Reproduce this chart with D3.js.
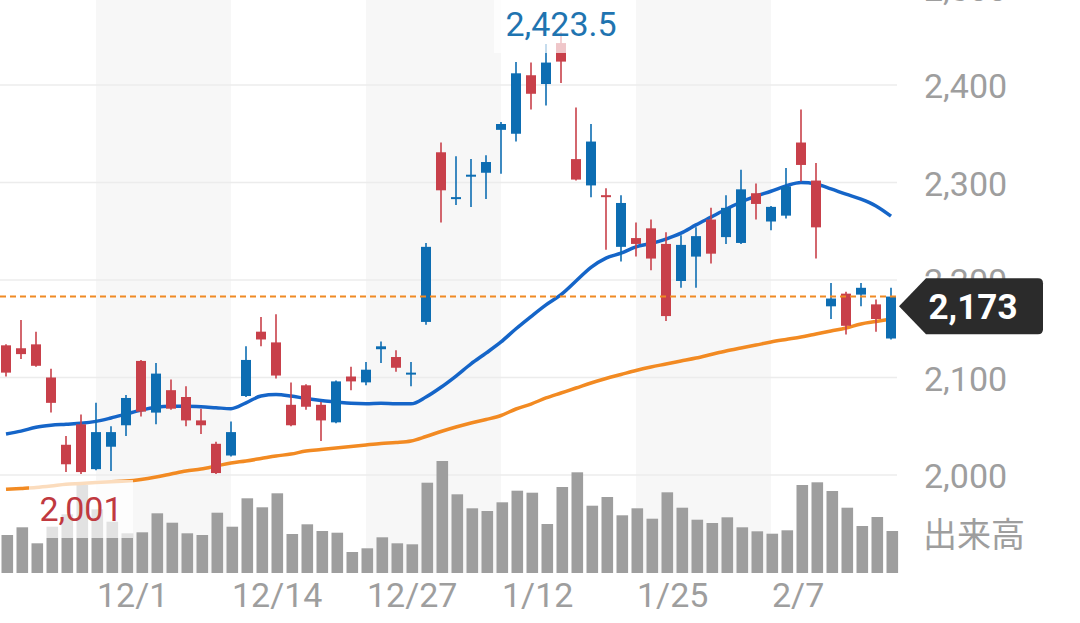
<!DOCTYPE html>
<html>
<head>
<meta charset="utf-8">
<script src="https://cdn.jsdelivr.net/npm/d3@7"></script>
<style>
  html, body { margin: 0; padding: 0; background: #fff; }
  svg { display: block; font-family: Roboto, "Noto Sans", sans-serif; }
</style>
</head>
<body>
<div id="chart"></div>
<script>
// trading days (Nov 2022 - Feb 2023)
var dates = ['11/22','11/24','11/25','11/28','11/29','11/30','12/1','12/2','12/5','12/6',
  '12/7','12/8','12/9','12/12','12/13','12/14','12/15','12/16','12/19','12/20',
  '12/21','12/22','12/23','12/26','12/27','12/28','12/29','12/30','1/4','1/5',
  '1/6','1/10','1/11','1/12','1/13','1/16','1/17','1/18','1/19','1/20',
  '1/23','1/24','1/25','1/26','1/27','1/30','1/31','2/1','2/2','2/3',
  '2/6','2/7','2/8','2/9','2/10','2/13','2/14','2/15','2/16','2/17'];

var open  = [2133,2130,2134,2100,2031,2052,2006,2029,2051,2117,
  2064,2087,2080,2056,2032,2020,2081,2147,2136,2072,
  2092,2072,2054,2101,2095,2129,2121,2104,2157,2331,
  2284,2307,2310,2354,2350,2410,2401,2443,2324,2297,
  2287,2234,2243,2253,2237,2199,2224,2262,2244,2238,
  2289,2260,2266,2341,2302,2173,2186,2185,2175,2140];
var high  = [2134,2159,2147,2109,2040,2062,2074,2050,2082,2118,
  2115,2098,2091,2068,2034,2055,2132,2162,2165,2095,
  2093,2075,2097,2111,2116,2137,2128,2116,2238,2341,
  2327,2324,2328,2362,2423.5,2423,2442,2454,2377,2360,
  2294,2287,2259,2262,2249,2246,2254,2274,2287,2313,
  2299,2276,2315,2375,2320,2197,2188,2197,2180,2192];
var low   = [2101,2119,2111,2064,2003,2001,2005,2004,2040,2060,
  2052,2067,2050,2042,2001,2019,2080,2132,2099,2050,
  2067,2035,2053,2087,2092,2115,2106,2091,2154,2259,
  2277,2275,2283,2309,2342,2375,2379,2402,2302,2285,
  2231,2219,2224,2210,2158,2192,2192,2217,2237,2237,
  2262,2251,2263,2301,2222,2160,2144,2173,2147,2139];
var close = [2105,2124,2112,2074,2011,2003,2044,2044,2079,2065,
  2104,2068,2056,2051,2002,2044,2118,2139,2102,2051,
  2070,2056,2096,2096,2108,2132,2110,2105,2234,2292,
  2285,2308,2321,2360,2412,2391,2423,2424,2303,2342,
  2285,2279,2237,2222,2163,2236,2245,2227,2274,2293,
  2278,2275,2296,2318,2254,2181,2153,2192,2160,2183];

// short and long moving averages
var maShort = [2042,2045,2049,2051,2052,2053,2055,2058.5,2062.5,2066.5,
  2069.5,2070.5,2070.5,2070,2069,2068,2074,2081,2082.5,2081,
  2078.5,2076.5,2075,2073.5,2073,2073.5,2073,2073,2080,2090,
  2101.5,2114,2125,2136.5,2150,2162.5,2174.5,2185,2199,2213,
  2222.5,2227.5,2234,2237.5,2242,2248,2256.5,2264.5,2272.5,2280,
  2286,2291,2296.5,2300,2298.5,2293.5,2288,2283,2276,2265.5];
var maLong = [1985.3,1986.2,1987.2,1988.7,1990.5,1991.3,1992.3,1993.1,1993.8,1995.4,
  1997.9,2001,2004.1,2006.2,2009.2,2012.3,2014.4,2016.9,2019.5,2021.5,
  2024.6,2026.2,2027.7,2029.2,2030.8,2032.3,2033.3,2034.9,2039.5,2044.6,
  2049.2,2053.3,2056.9,2061,2067.7,2072.8,2079,2084.1,2089.2,2094.4,
  2099,2103.1,2107.2,2110.8,2113.8,2116.9,2120,2123.6,2127.2,2130.3,
  2133.3,2136.4,2139,2141.5,2144.6,2147.7,2150.8,2154.9,2157.4,2160];

// volume (thousand shares)
var volume = [380,457,297,463,587,880,637,513,397,407,
  597,503,397,380,603,463,747,657,797,390,
  487,420,403,210,247,357,297,287,903,1120,
  787,647,620,707,823,803,490,860,1007,673,
  760,577,647,543,807,653,533,500,557,457,
  417,393,427,880,907,820,653,470,560,420];

var priceTicks = [2000, 2100, 2200, 2300, 2400, 2500];
var dateTicks = ['12/1', '12/14', '12/27', '1/12', '1/25', '2/7'];
var shadedRanges = [['12/1', '12/14'], ['12/27', '1/12'], ['1/25', '2/7']];
var lastPrice = 2173;
var refPrice = 2183;
var highMark = { date: '1/18', value: 2423.5 };
var lowMark = { date: '11/30', value: 2001 };

var width = 1080;
var height = 623;
var plotRight = 897;
var up = '#0d6db2', down = '#c8404a';

var svg = d3.select('#chart')
  .append('svg')
  .attr('width', width)
  .attr('height', height);

svg.append('rect').attr('width', width).attr('height', height).attr('fill', '#fff');

// scales
var x = d3.scalePoint().domain(dates).range([6, 891]);
var y = d3.scaleLinear().domain([2000, 2500]).range([475, -12.5]);
var yVol = d3.scaleLinear().domain([0, 1120]).range([573, 461]);

// shaded bands
svg.append('g').selectAll('rect')
  .data(shadedRanges)
  .enter()
  .append('rect')
  .attr('x', function(d){ return x(d[0]); })
  .attr('width', function(d){ return x(d[1]) - x(d[0]); })
  .attr('y', 0)
  .attr('height', 573)
  .attr('fill', '#f7f7f7');

// grid
svg.append('g').selectAll('line')
  .data(priceTicks)
  .enter()
  .append('line')
  .attr('x1', 0).attr('x2', plotRight)
  .attr('y1', function(d){ return y(d); })
  .attr('y2', function(d){ return y(d); })
  .attr('stroke', '#ececec')
  .attr('stroke-width', 1.5);

// volume bars
svg.append('g').selectAll('rect')
  .data(volume)
  .enter()
  .append('rect')
  .attr('x', function(d, i){ return x(dates[i]) - 4.5; })
  .attr('width', 11.6)
  .attr('y', function(d){ return yVol(d); })
  .attr('height', function(d){ return yVol(0) - yVol(d); })
  .attr('fill', '#9e9e9e');

// moving averages
var line = function(vals){
  return d3.line()
    .x(function(d, i){ return x(dates[i]); })
    .y(function(d){ return y(d); })
    .curve(d3.curveMonotoneX)(vals);
};
svg.append('path').attr('d', line(maLong))
  .attr('fill', 'none').attr('stroke', '#f28a22').attr('stroke-width', 3.5);
svg.append('path').attr('d', line(maShort))
  .attr('fill', 'none').attr('stroke', '#1565c8').attr('stroke-width', 3.5);

// candles
var candles = svg.append('g').selectAll('g')
  .data(dates)
  .enter()
  .append('g')
  .attr('fill', function(d, i){ return close[i] >= open[i] ? up : down; })
  .attr('stroke', function(d, i){ return close[i] >= open[i] ? up : down; });

candles.append('line')
  .attr('x1', function(d){ return x(d); })
  .attr('x2', function(d){ return x(d); })
  .attr('y1', function(d, i){ return y(high[i]); })
  .attr('y2', function(d, i){ return y(low[i]); })
  .attr('stroke-width', 1.6);

candles.append('rect')
  .attr('x', function(d){ return x(d) - 5; })
  .attr('width', 10)
  .attr('y', function(d, i){ return y(Math.max(open[i], close[i])); })
  .attr('height', function(d, i){
    return Math.max(2, Math.abs(y(open[i]) - y(close[i])));
  })
  .attr('stroke', 'none');

// reference dashed line
svg.append('line')
  .attr('x1', 0).attr('x2', plotRight)
  .attr('y1', y(refPrice)).attr('y2', y(refPrice))
  .attr('stroke', '#f08a24')
  .attr('stroke-width', 2)
  .attr('stroke-dasharray', '6,4');

// high / low labels
function markLabel(m, color, w){
  var cx = x(m.date);
  var g = svg.append('g');
  var cy = m === highMark ? 24 : 509;
  g.append('rect')
    .attr('x', cx - w / 2).attr('width', w)
    .attr('y', cy - 29).attr('height', 58)
    .attr('fill', '#fff').attr('fill-opacity', 0.7);
  g.append('text')
    .attr('x', cx).attr('y', cy + 12)
    .attr('text-anchor', 'middle')
    .attr('font-size', 34)
    .attr('fill', color)
    .text(d3.format(',')(m.value));
}
markLabel(highMark, '#1f74b0', 134);
markLabel(lowMark, '#c0393f', 104);

// right price axis labels
svg.append('g').selectAll('text')
  .data(priceTicks)
  .enter()
  .append('text')
  .attr('x', 924)
  .attr('y', function(d){ return y(d) + 13; })
  .attr('font-size', 34)
  .attr('fill', '#9e9e9e')
  .text(function(d){ return d3.format(',')(d); });

svg.append('text')
  .attr('x', 923).attr('y', 547)
  .attr('font-size', 34)
  .attr('font-family', '"Noto Sans CJK JP", sans-serif')
  .attr('fill', '#9e9e9e')
  .text('出来高');

// last price tag
var ty = y(lastPrice);
svg.append('path')
  .attr('d', 'M899,' + ty + 'L926,' + (ty - 28) + 'H1038Q1043,' + (ty - 28) + ' 1043,' + (ty - 23) +
    'V' + (ty + 23) + 'Q1043,' + (ty + 28) + ' 1038,' + (ty + 28) + 'H926Z')
  .attr('fill', '#2b2b2b');
svg.append('text')
  .attr('x', 973).attr('y', ty + 13)
  .attr('text-anchor', 'middle')
  .attr('font-size', 35)
  .attr('font-weight', 'bold')
  .attr('fill', '#fff')
  .text(d3.format(',')(lastPrice));

// date labels
svg.append('g').selectAll('text')
  .data(dateTicks)
  .enter()
  .append('text')
  .attr('x', function(d){ return x(d) + 1; })
  .attr('y', 607)
  .attr('font-size', 34)
  .attr('fill', '#9e9e9e')
  .text(function(d){ return d; });
</script>
</body>
</html>
